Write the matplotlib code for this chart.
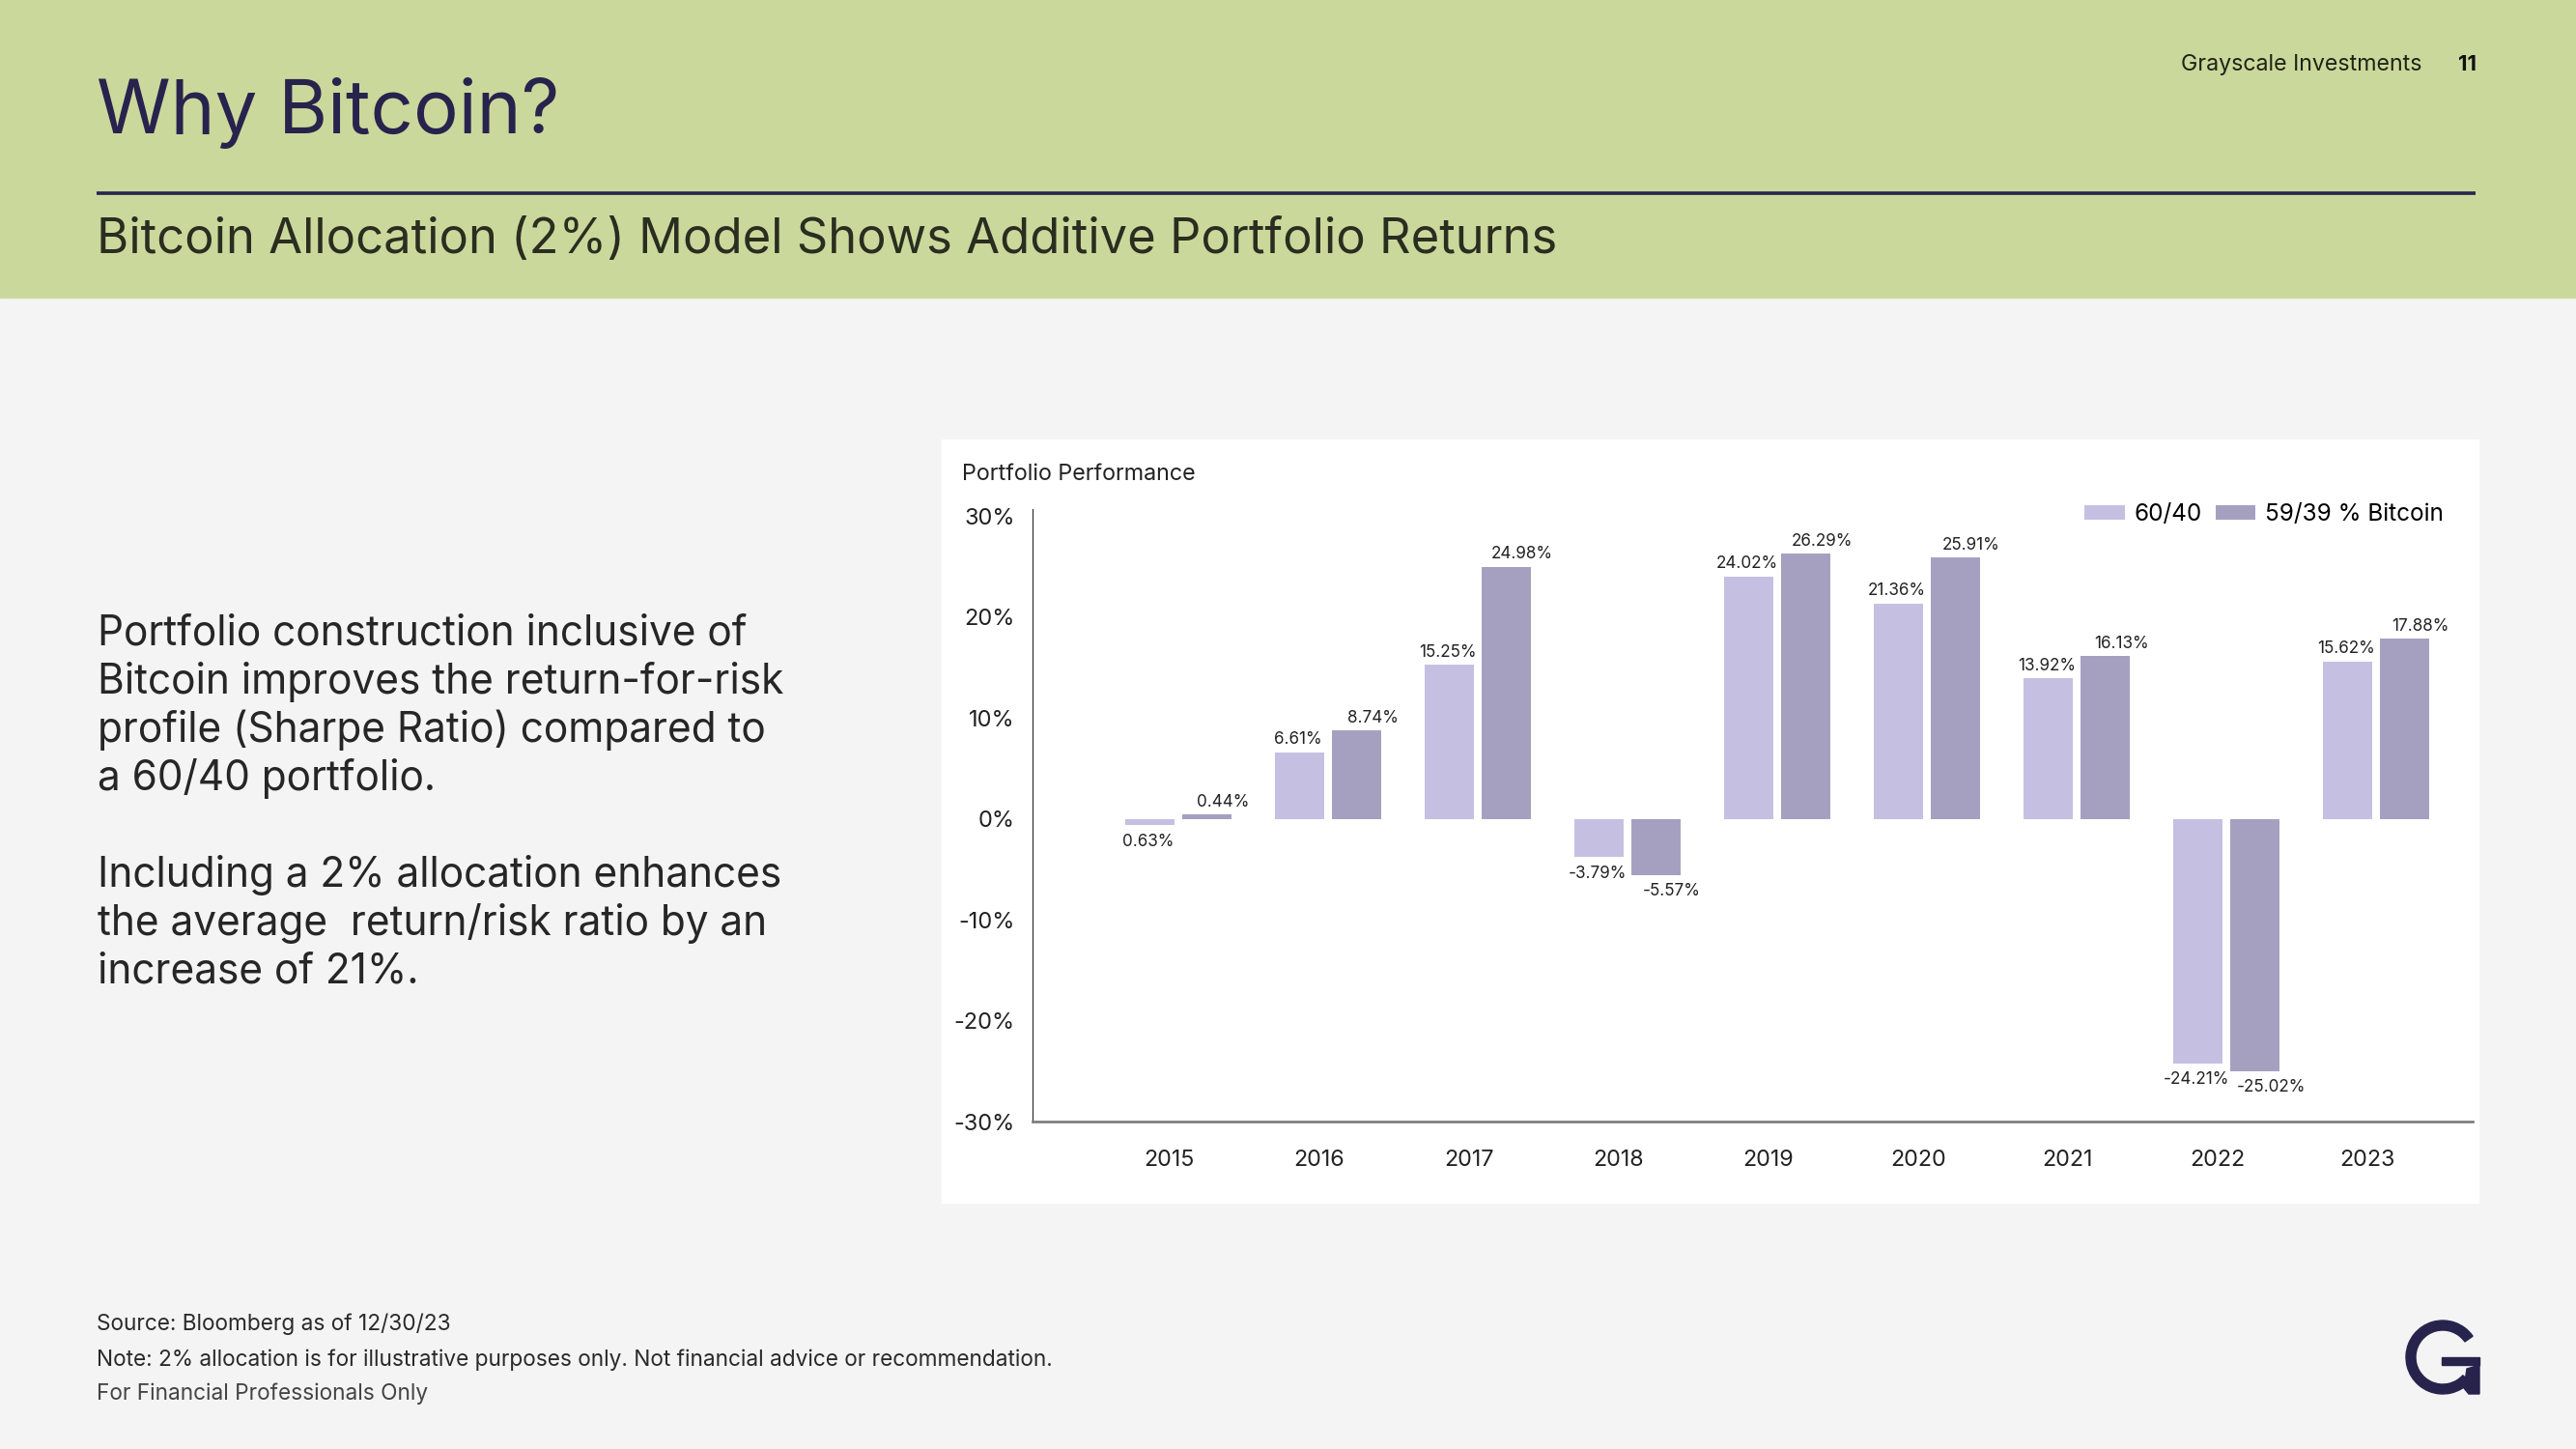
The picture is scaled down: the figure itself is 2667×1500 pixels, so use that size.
#!/usr/bin/env python3

import matplotlib
matplotlib.use("Agg")
import numpy as np
import matplotlib.pyplot as plt
from matplotlib.patches import Rectangle, Wedge, Polygon

# ---- data ----
years = ["2015", "2016", "2017", "2018", "2019", "2020", "2021", "2022", "2023"]
ret_6040 = [-0.63, 6.61, 15.25, -3.79, 24.02, 21.36, 13.92, -24.21, 15.62]
ret_btc = [0.44, 8.74, 24.98, -5.57, 26.29, 25.91, 16.13, -25.02, 17.88]
lbl_6040 = ["0.63%", "6.61%", "15.25%", "-3.79%", "24.02%", "21.36%", "13.92%", "-24.21%", "15.62%"]
lbl_btc = ["0.44%", "8.74%", "24.98%", "-5.57%", "26.29%", "25.91%", "16.13%", "-25.02%", "17.88%"]
series_names = ["60/40", "59/39 % Bitcoin"]
yticks = [-30, -20, -10, 0, 10, 20, 30]

body_lines = [
    "Portfolio construction inclusive of",
    "Bitcoin improves the return-for-risk",
    "profile (Sharpe Ratio) compared to",
    "a 60/40 portfolio.",
    "",
    "Including a 2% allocation enhances",
    "the average  return/risk ratio by an",
    "increase of 21%.",
]
footer_lines = [
    "Source: Bloomberg as of 12/30/23",
    "Note: 2% allocation is for illustrative purposes only. Not financial advice or recommendation.",
    "For Financial Professionals Only",
]

W, H = 2667, 1500
FONT = "Inter"
NAVY = "#28234D"
INK = "#222222"
C_LIGHT = "#C5C0E2"
C_DARK = "#A6A0C0"

plt.rcParams["font.family"] = [FONT, "DejaVu Sans"]

fig = plt.figure(figsize=(W / 100, H / 100), dpi=100)


def Y(y):
    # image rows (top-down) -> bg axes coords (bottom-up)
    return H - y


# background / decoration layer in pixel coords
bg = fig.add_axes([0, 0, 1, 1], zorder=0)
bg.set_xlim(0, W)
bg.set_ylim(0, H)
bg.axis("off")

bg.add_patch(Rectangle((0, 0), W, H, color="#F4F4F4"))
bg.add_patch(Rectangle((0, Y(308)), W, 308, color="#CBD89C"))
bg.add_patch(Rectangle((975, Y(1245)), 2566 - 975, 1245 - 455, color="white"))
bg.plot([100, 2563], [Y(200), Y(200)], color=NAVY, lw=2.6, solid_capstyle="butt")

bg.text(100, Y(138), "Why Bitcoin?", fontsize=56, color=NAVY, va="baseline")
bg.text(100, Y(262), "Bitcoin Allocation (2%) Model Shows Additive Portfolio Returns",
        fontsize=36.5, color="#2A2D1F", va="baseline")
bg.text(2258, Y(73), "Grayscale Investments", fontsize=16.7, color="#1E2416", va="baseline")
bg.text(2545, Y(73), "11", fontsize=16, color="#111111", va="baseline", fontweight="bold")

base = 668
for i, line in enumerate(body_lines):
    if line:
        bg.text(101, Y(base + 50 * i), line, fontsize=30.5, color="#262626", va="baseline")

for i, (line, yb) in enumerate(zip(footer_lines, [1377, 1414, 1449])):
    bg.text(100, Y(yb), line, fontsize=16.3, color="#2A2A2A" if i < 2 else "#444444",
            va="baseline")

bg.text(996, Y(497), "Portfolio Performance", fontsize=16.8, color=INK, va="baseline")

# logo
cx, cy, r = 2529, Y(1405), 38
bg.add_patch(Wedge((cx, cy), r, 35, 318, width=10, color=NAVY))
bg.add_patch(Rectangle((2528, Y(1413)), 39, 8, color=NAVY))
bg.add_patch(Polygon([(2554, Y(1417)), (2567, Y(1413)), (2567, Y(1443)), (2556, Y(1443)), (2551, Y(1437))],
                     closed=True, color=NAVY))

# ---- chart ----
ax = fig.add_axes([1069 / W, 1 - 1161 / H, (2560 - 1069) / W, (1161 - 527) / H], zorder=2)
ax.patch.set_alpha(0)

x = np.arange(len(years))
bw = 0.33
off = 0.19
b1 = ax.bar(x - off, ret_6040, bw, color=C_LIGHT, label=series_names[0])
b2 = ax.bar(x + off, ret_btc, bw, color=C_DARK, label=series_names[1])

for xi, v, t in zip(x - off, ret_6040, lbl_6040):
    ax.annotate(t, (xi, v), xytext=(-1, 6 if v >= 0 else -6), textcoords="offset points",
                ha="center", va="baseline" if v >= 0 else "top", fontsize=12.3, color=INK)
for xi, v, t in zip(x + off, ret_btc, lbl_btc):
    ax.annotate(t, (xi, v), xytext=(12, 6 if v >= 0 else -6), textcoords="offset points",
                ha="center", va="baseline" if v >= 0 else "top", fontsize=12.3, color=INK)

ax.set_xlim(-0.974, 8.645)
ax.set_ylim(-30, 30.7)
ax.set_xticks(x - 0.06)
ax.set_xticklabels(years)
ax.set_yticks(yticks)
ax.set_yticklabels([f"{t}%" for t in yticks])
ax.tick_params(axis="x", length=0, pad=21, labelsize=16.8, labelcolor=INK)
ax.tick_params(axis="y", length=0, pad=13, labelsize=17, labelcolor=INK)

for s in ["top", "right"]:
    ax.spines[s].set_visible(False)
ax.spines["left"].set_color("#333333")
ax.spines["left"].set_linewidth(0.9)
ax.spines["bottom"].set_color("#7A7A7A")
ax.spines["bottom"].set_linewidth(1.9)

ax.legend(handles=[b1, b2], ncol=2, loc="center right",
          bbox_to_anchor=(2530 / W, 1 - 533 / H), bbox_transform=fig.transFigure,
          frameon=False, fontsize=17.5, handlelength=1.7, handleheight=0.58,
          handletextpad=0.4, columnspacing=0.6, borderpad=0, borderaxespad=0)

fig.savefig("out.png", dpi=100)
